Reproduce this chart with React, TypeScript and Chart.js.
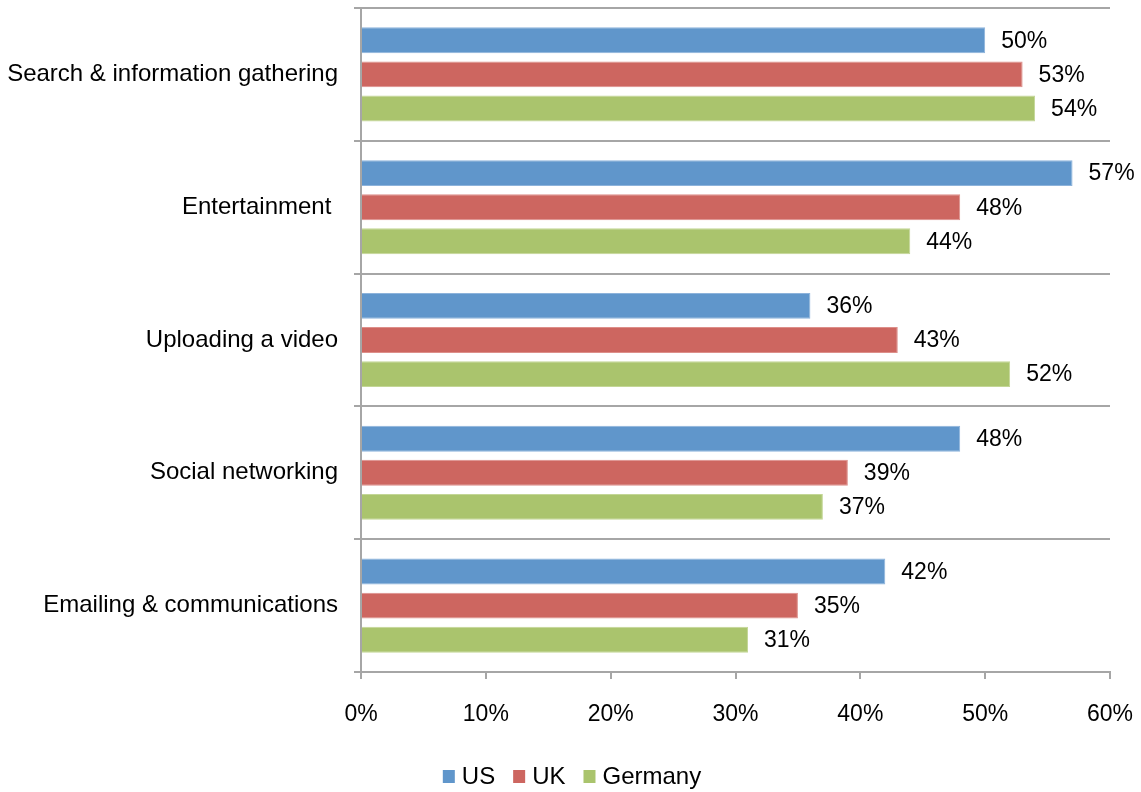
import React, { useEffect, useRef } from "react";
import { Chart, registerables } from "chart.js";

Chart.register(...registerables);

const categories = [
  "Search & information gathering",
  "Entertainment ",
  "Uploading a video",
  "Social networking",
  "Emailing & communications",
];
const usValues = [50, 57, 36, 48, 42];
const ukValues = [53, 48, 43, 39, 35];
const germanyValues = [54, 44, 52, 37, 31];
const seriesNames = ["US", "UK", "Germany"];
const seriesColors = ["#6096CB", "#CD6660", "#AAC46D"];
const seriesBorders = ["#8DB3DB", "#DD8F8A", "#C3D696"];
const xTicks = [0, 10, 20, 30, 40, 50, 60];

const FONT = "'Liberation Sans', Arial, sans-serif";

const valueLabels = {
  id: "valueLabels",
  afterDatasetsDraw(chart: any) {
    const ctx = chart.ctx;
    ctx.save();
    ctx.font = `23px ${FONT}`;
    ctx.fillStyle = "#000";
    ctx.textAlign = "left";
    ctx.textBaseline = "middle";
    chart.data.datasets.forEach((ds: any, i: number) => {
      const meta = chart.getDatasetMeta(i);
      meta.data.forEach((bar: any, j: number) => {
        ctx.fillText(ds.data[j] + "%", bar.x + 16, bar.y + 1);
      });
    });
    ctx.restore();
  },
};

const customLegend = {
  id: "customLegend",
  afterDraw(chart: any) {
    const ctx = chart.ctx;
    ctx.save();
    ctx.font = `24px ${FONT}`;
    ctx.textBaseline = "middle";
    ctx.textAlign = "left";
    const box = 12;
    const gap = 7;
    const spacing = 18;
    const items = chart.data.datasets.map((ds: any) => ({
      label: ds.label,
      color: ds.backgroundColor,
      w: box + gap + ctx.measureText(ds.label).width,
    }));
    const total = items.reduce((s: number, it: any) => s + it.w, 0) + spacing * (items.length - 1);
    let x = 572 - total / 2;
    const yc = 777;
    items.forEach((it: any) => {
      ctx.fillStyle = it.color;
      ctx.fillRect(x, yc - 7, box, box + 1);
      ctx.fillStyle = "#000";
      ctx.fillText(it.label, x + box + gap, yc);
      x += it.w + spacing;
    });
    ctx.restore();
  },
};

export default function App() {
  const ref = useRef<HTMLCanvasElement>(null);
  useEffect(() => {
    document.body.style.margin = "0";
    const chart = new Chart(ref.current!, {
      type: "bar",
      data: {
        labels: categories,
        datasets: seriesNames.map((name, i) => ({
          label: name,
          data: [usValues, ukValues, germanyValues][i],
          backgroundColor: seriesColors[i],
          borderColor: seriesBorders[i],
          borderWidth: 1,
        })),
      },
      options: {
        indexAxis: "y",
        animation: false,
        responsive: false,
        devicePixelRatio: 1,
        layout: { padding: { top: 8, right: 31, left: 0, bottom: 0 } },
        datasets: { bar: { categoryPercentage: 0.77, barPercentage: 0.76 } },
        scales: {
          x: {
            min: 0,
            max: 60,
            afterBuildTicks(scale: any) {
              scale.ticks = xTicks.map((v) => ({ value: v }));
            },
            ticks: {
              callback: (v: any) => v + "%",
              color: "#000",
              font: { family: FONT, size: 23 },
              padding: 22,
              maxRotation: 0,
            },
            grid: { drawOnChartArea: false, drawTicks: true, tickLength: 7, color: "#A6A6A6", lineWidth: 2 },
            border: { display: true, color: "#A6A6A6", width: 2 },
            afterFit(scale: any) {
              scale.height = 120;
              scale.paddingLeft = 0;
              scale.paddingRight = 0;
            },
          },
          y: {
            grid: { offset: true, color: "#A6A6A6", lineWidth: 2, tickLength: 7, drawTicks: true },
            border: { display: true, color: "#A6A6A6", width: 2 },
            ticks: {
              color: "#000",
              font: { family: FONT, size: 24 },
              padding: 16,
              labelOffset: 0,
            },
            afterFit(scale: any) {
              scale.width = 361;
              scale.paddingTop = 0;
              scale.paddingBottom = 0;
            },
          },
        },
        plugins: {
          legend: { display: false },
          tooltip: { enabled: false },
        },
      },
      plugins: [valueLabels, customLegend],
    });
    return () => chart.destroy();
  }, []);
  return <canvas ref={ref} width={1141} height={792} style={{ display: "block" }} />;
}
